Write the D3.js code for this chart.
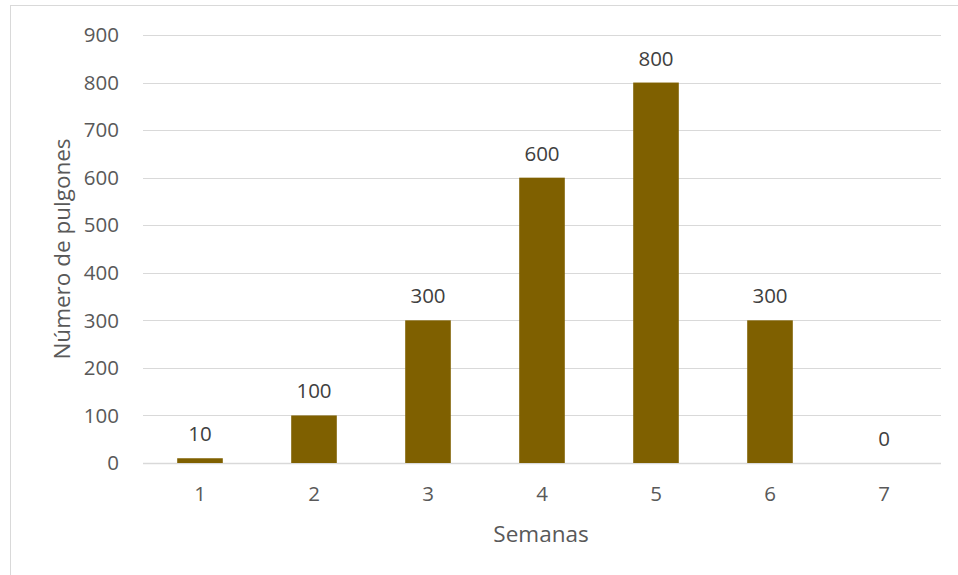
<!DOCTYPE html>
<html>
<head>
<meta charset="utf-8">
<script src="https://cdn.jsdelivr.net/npm/d3@7"></script>
<style>
  body { margin: 0; background: #fff; }
  text { font-family: "Open Sans", "Noto Sans", sans-serif; }
</style>
</head>
<body>
<div id="vis"></div>
<script>
// semanas y pulgones
var semanas = ["1", "2", "3", "4", "5", "6", "7"];
var pulgones = [10, 100, 300, 600, 800, 300, 0];
var yTicks = [0, 100, 200, 300, 400, 500, 600, 700, 800, 900];

var opts = {
  width: 958,
  height: 575,
  left: 143,
  right: 941,
  top: 35,
  bottom: 463
};

var svg = d3.select("#vis")
  .append("svg")
  .attr("width", opts.width)
  .attr("height", opts.height);

// chart frame
svg.append("rect")
  .attr("x", 10.5)
  .attr("y", 5.5)
  .attr("width", 960)
  .attr("height", 600)
  .attr("fill", "#fff")
  .attr("stroke", "#d9d9d9")
  .attr("stroke-width", 1);

var x = d3.scaleBand()
  .domain(semanas)
  .range([opts.left, opts.right])
  .paddingInner(0.6)
  .paddingOuter(0.3);

var y = d3.scaleLinear()
  .domain([0, 900])
  .range([opts.bottom, opts.top]);

// gridlines
svg.append("g")
  .selectAll("line")
  .data(yTicks)
  .enter()
  .append("line")
  .attr("x1", opts.left)
  .attr("x2", opts.right)
  .attr("y1", function(d) { return Math.round(y(d)) + 0.5; })
  .attr("y2", function(d) { return Math.round(y(d)) + 0.5; })
  .attr("stroke", "#d9d9d9")
  .attr("stroke-width", function(d) { return d == 0 ? 1.5 : 1; });

// y tick labels
svg.append("g")
  .selectAll("text")
  .data(yTicks)
  .enter()
  .append("text")
  .attr("x", 119)
  .attr("y", function(d) { return y(d); })
  .attr("dy", "0.35em")
  .attr("text-anchor", "end")
  .attr("font-size", 20.5)
  .attr("fill", "#595959")
  .text(function(d) { return d; });

// bars
svg.append("g")
  .selectAll("rect")
  .data(pulgones)
  .enter()
  .append("rect")
  .attr("x", function(d, i) { return x(semanas[i]); })
  .attr("width", x.bandwidth())
  .attr("y", function(d) { return y(d); })
  .attr("height", function(d) { return y(0) - y(d); })
  .attr("fill", "#7f6000");

// data labels
svg.append("g")
  .selectAll("text")
  .data(pulgones)
  .enter()
  .append("text")
  .attr("x", function(d, i) { return x(semanas[i]) + x.bandwidth() / 2; })
  .attr("y", function(d) { return y(d) - 17; })
  .attr("text-anchor", "middle")
  .attr("font-size", 20.5)
  .attr("fill", "#404040")
  .text(function(d) { return d; });

// x tick labels
svg.append("g")
  .selectAll("text")
  .data(semanas)
  .enter()
  .append("text")
  .attr("x", function(d) { return x(d) + x.bandwidth() / 2; })
  .attr("y", 501)
  .attr("text-anchor", "middle")
  .attr("font-size", 20.5)
  .attr("fill", "#595959")
  .text(function(d) { return d; });

// axis titles
svg.append("text")
  .attr("x", 541)
  .attr("y", 542)
  .attr("text-anchor", "middle")
  .attr("font-size", 22.5)
  .attr("fill", "#595959")
  .text("Semanas");

svg.append("text")
  .attr("transform", "translate(70," + ((opts.top + opts.bottom) / 2) + ") rotate(-90)")
  .attr("text-anchor", "middle")
  .attr("font-size", 22.5)
  .attr("fill", "#595959")
  .text("Número de pulgones");
</script>
</body>
</html>
